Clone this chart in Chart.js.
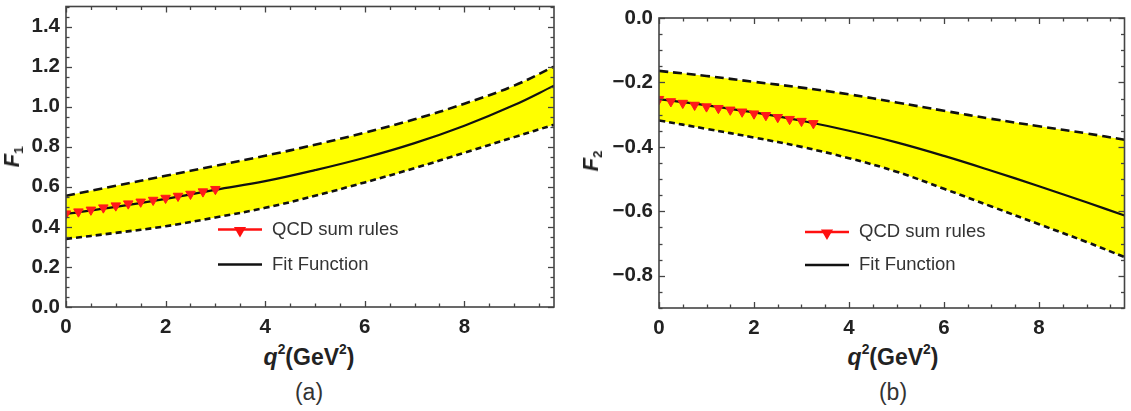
<!DOCTYPE html>
<html>
<head>
<meta charset="utf-8">
<script src="https://cdn.jsdelivr.net/npm/chart.js@4.4.1/dist/chart.umd.min.js"></script>
<style>
  body { margin: 0; background: #fff; width: 1131px; height: 411px; position: relative; overflow: hidden;
         font-family: "Liberation Sans", Arial, sans-serif; }
  canvas { position: absolute; top: 0; }
  .lbl { position: absolute; transform: translate(-50%, -50%); white-space: nowrap; color: #222; }
  .xt { font-size: 23px; font-weight: bold; }
  .yt { font-size: 22px; font-weight: bold; font-style: italic; transform: translate(-50%, -50%) rotate(-90deg); }
  .cap { font-size: 23px; color: #333; }
  sup { font-size: 0.6em; vertical-align: 0.75em; line-height: 0; }
  sub { font-size: 0.6em; vertical-align: -0.3em; line-height: 0; font-style: normal; }
</style>
</head>
<body>
<canvas id="chartA" width="565" height="340" style="left:0"></canvas>
<canvas id="chartB" width="566" height="340" style="left:565px"></canvas>

<div class="lbl yt" style="left:12px; top:157px"><i>F</i><sub>1</sub></div>
<div class="lbl xt" style="left:309px; top:357px"><i>q</i><sup>2</sup>(GeV<sup>2</sup>)</div>
<div class="lbl cap" style="left:309px; top:392px">(a)</div>

<div class="lbl yt" style="left:591px; top:161px"><i>F</i><sub>2</sub></div>
<div class="lbl xt" style="left:893px; top:357px"><i>q</i><sup>2</sup>(GeV<sup>2</sup>)</div>
<div class="lbl cap" style="left:893px; top:392px">(b)</div>

<script>
// data
var q2_fit = [0, 1, 2, 3, 4, 5, 6, 7, 8, 9, 9.8];

var f1_fit   = [0.465, 0.50, 0.54, 0.585, 0.628, 0.683, 0.745, 0.818, 0.905, 1.008, 1.105];
var f1_upper = [0.555, 0.605, 0.655, 0.705, 0.755, 0.81, 0.87, 0.937, 1.015, 1.105, 1.20];
var f1_lower = [0.34, 0.37, 0.403, 0.447, 0.495, 0.555, 0.622, 0.693, 0.77, 0.848, 0.91];

var q2_qcd_a = [0, 0.25, 0.5, 0.75, 1, 1.25, 1.5, 1.75, 2, 2.25, 2.5, 2.75, 3];
var f1_qcd   = [0.466, 0.476, 0.485, 0.496, 0.506, 0.516, 0.525, 0.534, 0.544, 0.554, 0.564, 0.576, 0.588];

var f2_fit   = [-0.252, -0.271, -0.293, -0.319, -0.35, -0.386, -0.428, -0.474, -0.522, -0.572, -0.613];
var f2_upper = [-0.164, -0.18, -0.198, -0.216, -0.237, -0.262, -0.288, -0.313, -0.336, -0.358, -0.378];
var f2_lower = [-0.318, -0.344, -0.371, -0.400, -0.435, -0.477, -0.53, -0.585, -0.64, -0.695, -0.742];

var q2_qcd_b = [0, 0.25, 0.5, 0.75, 1, 1.25, 1.5, 1.75, 2, 2.25, 2.5, 2.75, 3, 3.25];
var f2_qcd   = [-0.252, -0.259, -0.264, -0.270, -0.275, -0.280, -0.285, -0.291, -0.297, -0.302, -0.308, -0.314, -0.320, -0.327];

var x_ticks   = [0, 2, 4, 6, 8];
var y_ticks_a = [0, 0.2, 0.4, 0.6, 0.8, 1.0, 1.2, 1.4];
var y_ticks_b = [-0.8, -0.6, -0.4, -0.2, 0];

var legend_labels = ["QCD sum rules", "Fit Function"];

function pts(xs, ys) {
  return xs.map(function (x, i) { return { x: x, y: ys[i] }; });
}

const tickFont = { family: "'Liberation Sans', Arial, sans-serif", size: 20.5, weight: "bold" };

// frame with inward major / minor ticks on all four sides
const frameTicks = {
  id: "frameTicks",
  afterDatasetsDraw(chart, args, opts) {
    const ctx = chart.ctx, a = chart.chartArea, sx = chart.scales.x, sy = chart.scales.y;
    ctx.save();
    ctx.strokeStyle = "#444";
    ctx.lineWidth = 1.3;
    function seg(x1, y1, x2, y2) { ctx.beginPath(); ctx.moveTo(x1, y1); ctx.lineTo(x2, y2); ctx.stroke(); }
    function isMajor(v, step) { return Math.abs(v / step - Math.round(v / step)) < 1e-6; }
    for (let k = Math.ceil(sx.min / opts.xMinor - 1e-9); k * opts.xMinor <= sx.max + 1e-9; k++) {
      const v = k * opts.xMinor, px = Math.round(sx.getPixelForValue(v)) + 0.5;
      const len = isMajor(v, opts.xMajor) ? 6 : 3.5;
      seg(px, a.bottom, px, a.bottom - len);
      seg(px, a.top, px, a.top + len);
    }
    for (let k = Math.ceil(sy.min / opts.yMinor - 1e-9); k * opts.yMinor <= sy.max + 1e-9; k++) {
      const v = k * opts.yMinor, py = Math.round(sy.getPixelForValue(v)) + 0.5;
      const len = isMajor(v, opts.yMajor) ? 6 : 3.5;
      seg(a.left, py, a.left + len, py);
      seg(a.right, py, a.right - len, py);
    }
    ctx.lineWidth = 1.6;
    ctx.strokeRect(a.left, a.top, a.right - a.left, a.bottom - a.top);
    ctx.restore();
  },
};

// legend drawn inside the plot
const innerLegend = {
  id: "innerLegend",
  afterDraw(chart, args, opts) {
    const ctx = chart.ctx, a = chart.chartArea;
    const x0 = a.left + opts.dx, y0 = a.top + opts.dy;
    ctx.save();
    ctx.font = "18.5px 'Liberation Sans', Arial, sans-serif";
    ctx.textBaseline = "middle";
    // QCD sum rules
    ctx.strokeStyle = "#ff1010";
    ctx.lineWidth = 2.5;
    ctx.beginPath(); ctx.moveTo(x0, y0); ctx.lineTo(x0 + 44, y0); ctx.stroke();
    Chart.helpers.drawPoint(ctx, { pointStyle: "triangle", radius: 4.5, rotation: 180, borderWidth: 1 }, x0 + 22, y0 + 1);
    ctx.fillStyle = "#ff1010";
    ctx.fill();
    ctx.fillStyle = "#333";
    ctx.fillText(legend_labels[0], x0 + 54, y0);
    // Fit Function
    ctx.strokeStyle = "#111";
    ctx.beginPath(); ctx.moveTo(x0, y0 + opts.gap); ctx.lineTo(x0 + 44, y0 + opts.gap); ctx.stroke();
    ctx.fillText(legend_labels[1], x0 + 54, y0 + opts.gap);
    ctx.restore();
  },
};

function makeDatasets(fit, upper, lower, qx, qy) {
  return [
    {
      label: legend_labels[0], data: pts(qx, qy), showLine: false,
      pointStyle: "triangle", pointRotation: 180, pointRadius: 5.5,
      pointBackgroundColor: "#ff1a1a", pointBorderColor: "#ff1a1a", pointBorderWidth: 1,
    },
    {
      label: legend_labels[1], data: pts(q2_fit, fit), borderColor: "#111", borderWidth: 2.2,
      pointRadius: 0, tension: 0.4, fill: false,
    },
    {
      label: "upper", data: pts(q2_fit, upper), borderColor: "#111", borderWidth: 2.6,
      borderDash: [9, 5], pointRadius: 0, tension: 0.4,
      fill: "+1", backgroundColor: "#ffff00",
    },
    {
      label: "lower", data: pts(q2_fit, lower), borderColor: "#111", borderWidth: 2.6,
      borderDash: [6, 4], pointRadius: 0, tension: 0.4, fill: false,
    },
  ];
}

function makeConfig(datasets, yMin, yMax, yTicks, yAxisWidth, xAxisHeight, padding, legendPos) {
  return {
    type: "line",
    data: { datasets: datasets },
    options: {
      responsive: false,
      devicePixelRatio: 1,
      animation: false,
      layout: { padding: padding },
      plugins: {
        legend: { display: false },
        tooltip: { enabled: false },
        filler: { drawTime: "beforeDatasetsDraw" },
        frameTicks: { xMinor: 0.5, xMajor: 2, yMinor: 0.05, yMajor: 0.2 },
        innerLegend: legendPos,
      },
      scales: {
        x: {
          type: "linear", min: 0, max: 9.8,
          grid: { display: false, drawTicks: false }, border: { display: false },
          afterBuildTicks: function (s) { s.ticks = x_ticks.map(function (v) { return { value: v }; }); },
          afterFit: function (s) { s.height = xAxisHeight; s.paddingLeft = 0; s.paddingRight = 0; },
          ticks: { font: tickFont, color: "#222", padding: 8, maxRotation: 0,
                   callback: function (v) { return String(v); } },
        },
        y: {
          type: "linear", min: yMin, max: yMax,
          grid: { display: false, drawTicks: false }, border: { display: false },
          afterBuildTicks: function (s) { s.ticks = yTicks.map(function (v) { return { value: v }; }); },
          afterFit: function (s) { s.width = yAxisWidth; s.paddingTop = 0; s.paddingBottom = 0; },
          ticks: { font: tickFont, color: "#222", padding: 6,
                   callback: function (v) { return (Math.abs(v) < 1e-9 ? 0 : v).toFixed(1).replace("-", "\u2212"); } },
        },
      },
    },
    plugins: [frameTicks, innerLegend],
  };
}

var chartA = new Chart(
  document.getElementById("chartA").getContext("2d"),
  makeConfig(makeDatasets(f1_fit, f1_upper, f1_lower, q2_qcd_a, f1_qcd),
             0, 1.5, y_ticks_a, 66, 33, { top: 5, right: 11, left: 0, bottom: 0 },
             { dx: 152, dy: 223, gap: 35 })
);

var chartB = new Chart(
  document.getElementById("chartB").getContext("2d"),
  makeConfig(makeDatasets(f2_fit, f2_upper, f2_lower, q2_qcd_b, f2_qcd),
             -0.9, 0, y_ticks_b, 94, 32, { top: 18, right: 2, left: 0, bottom: 0 },
             { dx: 146, dy: 214, gap: 33 })
);
</script>
</body>
</html>
